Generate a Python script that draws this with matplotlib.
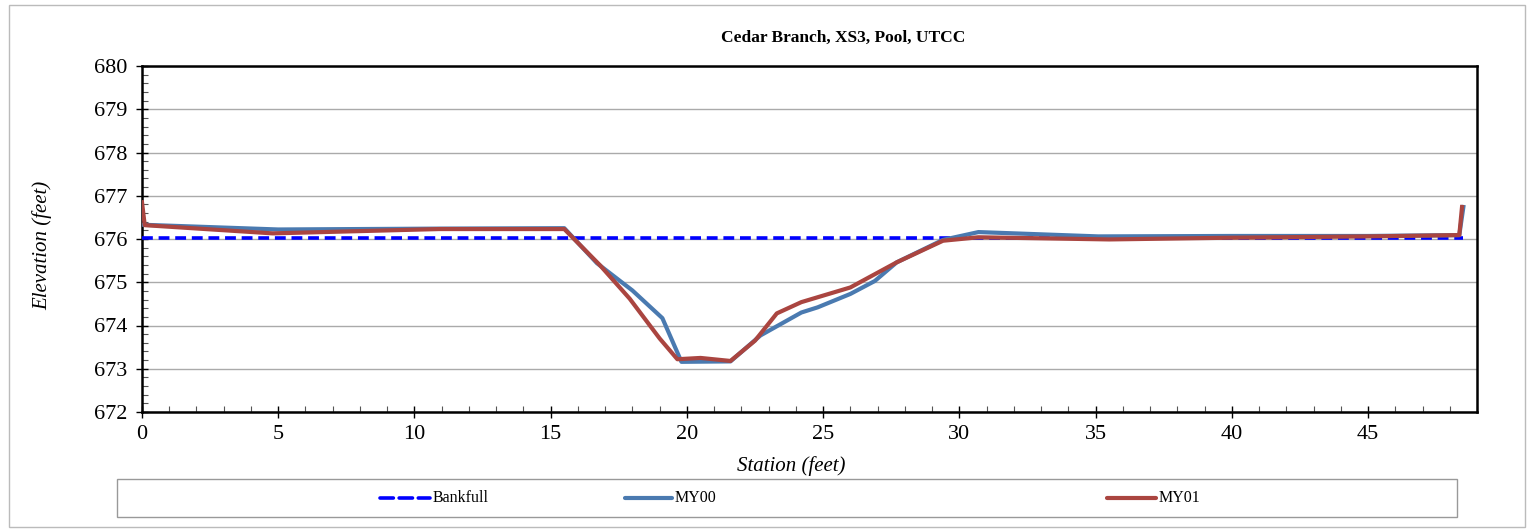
import numpy as np
import matplotlib.pyplot as plt
from matplotlib.patches import Rectangle
from matplotlib.ticker import MultipleLocator

plt.rcParams['font.family'] = ['Liberation Serif', 'DejaVu Serif']

# survey data (station ft, elevation ft)
bkf_x = [0.0, 48.5]
bkf_y = [676.02, 676.02]

my00_x = [0.0, 5.0, 10.9, 15.5, 16.7, 18.0, 19.1, 19.8, 21.6, 22.7,
          24.2, 24.8, 26.0, 26.9, 27.7, 29.4, 30.7, 35.1, 40.0, 45.0,
          48.35, 48.5]
my00_y = [676.33, 676.22, 676.24, 676.25, 675.44, 674.81, 674.17, 673.16, 673.17, 673.77,
          674.3, 674.42, 674.73, 675.03, 675.46, 675.98, 676.16, 676.06, 676.07, 676.07,
          676.09, 676.74]

my01_x = [0.0, 0.1, 4.8, 10.9, 15.5, 16.8, 17.9, 19.0, 19.65, 20.5,
          21.6, 22.5, 23.3, 24.2, 26.0, 27.7, 29.4, 30.7, 35.5, 40.0,
          45.0, 48.35, 48.45]
my01_y = [676.85, 676.32, 676.13, 676.23, 676.23, 675.4, 674.62, 673.7, 673.22, 673.25,
          673.18, 673.65, 674.28, 674.54, 674.88, 675.46, 675.96, 676.04, 675.99, 676.03,
          676.06, 676.09, 676.74]

fig = plt.figure(figsize=(15.31, 5.32), dpi=100)
W, H = 1531, 532
ax = fig.add_axes([142 / W, 1 - 412 / H, (1477 - 142) / W, (412 - 66) / H])

bk, = ax.plot(bkf_x, bkf_y, color='#0000FF', lw=2.6, ls=(0, (3, 1.6)), zorder=3)
l0, = ax.plot(my00_x, my00_y, color='#4A7AB0', lw=3.0, zorder=4)
l1, = ax.plot(my01_x, my01_y, color='#AA4540', lw=3.0, zorder=5)

ax.set_xlim(0, 49)
ax.set_ylim(672, 680)
ax.xaxis.set_major_locator(MultipleLocator(5))
ax.xaxis.set_minor_locator(MultipleLocator(1))
ax.yaxis.set_major_locator(MultipleLocator(1))
ax.yaxis.set_minor_locator(MultipleLocator(0.2))
ax.tick_params(which='major', direction='inout', length=9, width=1.0, labelsize=16,
               colors='black', pad=6)
ax.tick_params(axis='x', which='major', pad=5)
ax.tick_params(which='minor', direction='in', length=4, width=0.8, color='#555555')
ax.grid(axis='y', which='major', color='#AAAAAA', lw=1.0, zorder=0)
for s in ax.spines.values():
    s.set_linewidth(1.8)
    s.set_color('black')

ax.set_xlabel('Station (feet)', fontsize=15, style='italic')
ax.xaxis.set_label_coords((791 - 142) / 1335, -(466 - 412) / 346)
ax.xaxis.label.set_va('center')
ax.set_ylabel('Elevation (feet)', fontsize=15, style='italic')
ax.yaxis.set_label_coords(-(142 - 42) / 1335, (412 - 245) / 346)
ax.yaxis.label.set_va('center')
fig.text(843 / W, 1 - 38 / H, 'Cedar Branch, XS3, Pool, UTCC', fontsize=12.5,
         fontweight='bold', ha='center', va='center')

# outer chart frame
fig.patches.append(Rectangle((9 / W, 1 - 527 / H), (1525 - 9) / W, (527 - 5) / H,
                             transform=fig.transFigure, fill=False,
                             edgecolor='#BBBBBB', lw=1.0))

# legend box
fig.patches.append(Rectangle((117 / W, 1 - 517 / H), (1457 - 117) / W, (517 - 479) / H,
                             transform=fig.transFigure, fill=False,
                             edgecolor='#999999', lw=1.0))
yl = 1 - 498 / H
entries = [(bk, 'Bankfull', 380, 430), (l0, 'MY00', 625, 672), (l1, 'MY01', 1107, 1156)]
for h, lab, x0, x1 in entries:
    fig.add_artist(plt.Line2D([x0 / W, x1 / W], [yl, yl], transform=fig.transFigure,
                              color=h.get_color(), lw=h.get_linewidth(),
                              ls=h.get_linestyle(), solid_capstyle='round',
                              dash_capstyle='round'))
    fig.text((x1 + 3) / W, yl, lab, fontsize=11.5, ha='left', va='center')

fig.savefig('out.png', dpi=100)
